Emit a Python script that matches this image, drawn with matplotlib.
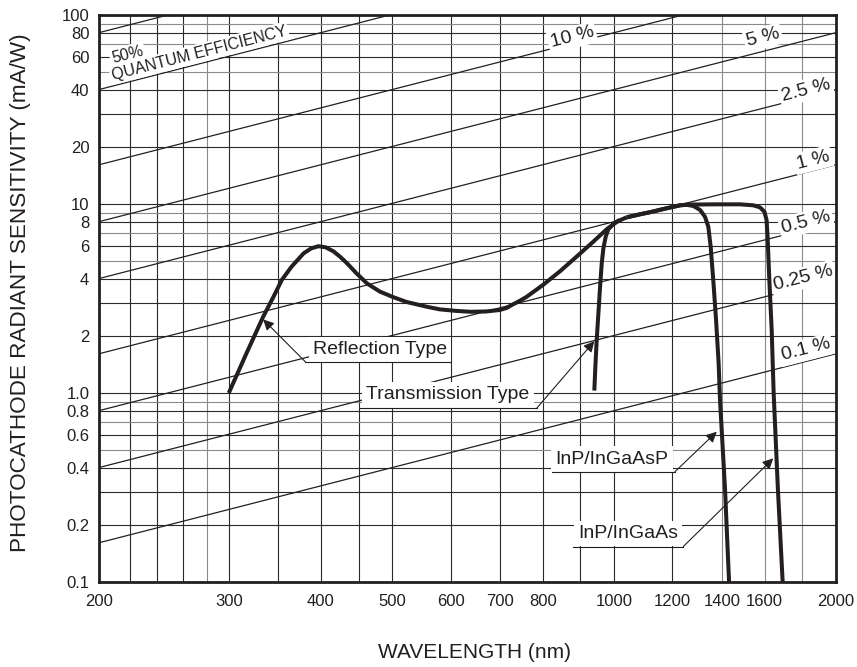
import numpy as np
import matplotlib
matplotlib.use("Agg")
import matplotlib.pyplot as plt

plt.rcParams["font.family"] = ["Liberation Sans", "DejaVu Sans"]

# ---- data (wavelength nm, sensitivity mA/W) ----
refl_wl = [300, 317, 334, 345, 354, 365, 379, 388, 397, 406, 416, 425, 434, 447,
           462, 481, 502, 523, 557, 580, 610, 638, 670, 700, 715, 726, 742, 761,
           802, 844, 889, 937, 977, 1008, 1040]
refl_s = [1.00, 1.62, 2.53, 3.23, 3.96, 4.66, 5.48, 5.82, 5.98, 5.90, 5.62, 5.25,
          4.86, 4.30, 3.80, 3.44, 3.21, 3.03, 2.86, 2.77, 2.72, 2.69, 2.70, 2.75,
          2.82, 2.92, 3.05, 3.23, 3.75, 4.40, 5.26, 6.32, 7.35, 8.06, 8.50]

trans_wl = [940, 943, 947, 952, 957, 962, 967, 974, 982, 998, 1018]
trans_s = [1.03, 1.38, 1.91, 2.64, 3.65, 4.86, 5.83, 6.72, 7.35, 7.84, 8.23]

ingaasp_wl = [1040, 1084, 1119, 1178, 1230, 1255, 1281, 1308, 1328, 1342, 1352,
              1363, 1375, 1386, 1392, 1414, 1432]
ingaasp_s = [8.50, 8.82, 9.05, 9.49, 9.85, 9.90, 9.76, 9.30, 8.57, 7.59, 5.95,
             3.96, 2.43, 1.44, 0.92, 0.31, 0.10]

ingaas_wl = [1040, 1084, 1119, 1178, 1230, 1260, 1378, 1482, 1545, 1577, 1599,
             1610, 1615, 1624, 1636, 1646, 1668, 1693]
ingaas_s = [8.50, 8.82, 9.05, 9.49, 9.85, 9.93, 9.96, 9.96, 9.84, 9.60, 9.11,
            8.23, 6.72, 3.96, 2.15, 1.00, 0.31, 0.10]

# quantum efficiency reference lines (percent)
qe_levels = [50, 25, 10, 5, 2.5, 1, 0.5, 0.25, 0.1]
qe_wl = [200, 2000]

x_major = [200, 300, 400, 500, 600, 700, 800, 1000, 1200, 1400, 1600, 2000]
x_minor = [220, 240, 260, 280, 350, 450, 900, 1800]
y_major = [0.1, 0.2, 0.4, 0.6, 0.8, 1, 2, 4, 6, 8, 10, 20, 40, 60, 80, 100]
y_labels = ["0.1", "0.2", "0.4", "0.6", "0.8", "1.0", "2", "4", "6", "8",
            "10", "20", "40", "60", "80", "100"]
y_minor = [0.3, 0.5, 0.7, 0.9, 3, 5, 7, 9, 30, 50, 70, 90]

INK = "#231f20"

fig = plt.figure(figsize=(8.57, 6.67), dpi=100)
ax = fig.add_axes([99 / 857, 1 - 582 / 667, 737 / 857, 567 / 667])
ax.set_xscale("log")
ax.set_yscale("log")
ax.set_xlim(200, 2000)
ax.set_ylim(0.1, 100)

# grid drawn by hand so a few lines can be lighter, as in the scan
gray_x = {280, 1400, 1600, 1800}
gray_y = {0.5, 0.7, 0.9, 5, 7, 9, 50, 70, 90}
for xv in x_major + x_minor:
    ax.axvline(xv, color="#8a8a8a" if xv in gray_x else "#2a2a2a", lw=0.8, zorder=1)
for yv in y_major + y_minor:
    ax.axhline(yv, color="#8a8a8a" if yv in gray_y else "#2a2a2a", lw=0.8, zorder=1)

# QE lines: S[mA/W] = QE * lambda / 1240 * 1000
wl = np.array(qe_wl, dtype=float)
for q in qe_levels:
    ax.plot(wl, q / 100 * wl / 1.24, color=INK, lw=0.9, zorder=2)

for xs, ys in [(refl_wl, refl_s), (trans_wl, trans_s),
               (ingaasp_wl, ingaasp_s), (ingaas_wl, ingaas_s)]:
    ax.plot(xs, ys, color=INK, lw=2.9, solid_capstyle="butt",
            solid_joinstyle="round", zorder=4)

ax.set_xticks(x_major, [str(v) for v in x_major])
ax.set_xticks([], minor=True)
ax.set_yticks(y_major, y_labels)
ax.set_yticks([], minor=True)
ax.tick_params(length=0, labelsize=12, colors=INK)
ax.tick_params(axis="x", pad=9)
ax.tick_params(axis="y", pad=7)
for sp in ax.spines.values():
    sp.set_linewidth(2.0)
    sp.set_color(INK)
    sp.set_zorder(6)

# QE labels
box = dict(boxstyle="square,pad=0.12", fc="white", ec="none")
ROT = 14.4
qe_text = [("10 %", 877, 76), ("5 %", 1592, 76), ("2.5 %", 1821, 40),
           ("1 %", 1862, 17.1), ("0.5 %", 1821, 8.0), ("0.25 %", 1804, 4.05),
           ("0.1 %", 1821, 1.69)]
for s, xv, yv in qe_text:
    ax.text(xv, yv, s, fontsize=14, rotation=ROT, ha="center", va="center",
            rotation_mode="anchor", bbox=box, color=INK, zorder=3)
ax.text(209, 55.7, "50%", fontsize=11.5, rotation=ROT, ha="left", va="baseline",
        rotation_mode="anchor", bbox=box, color=INK, zorder=3)
ax.text(209, 45.3, "QUANTUM EFFICIENCY", fontsize=11.5, rotation=ROT, ha="left",
        va="baseline", rotation_mode="anchor", bbox=box, color=INK, zorder=3)

# curve labels with underline leader and arrow
labels = [
    ("Reflection Type", 481, 1.69, 381, 599, 1.464, 381, 334, 2.45),
    ("Transmission Type", 595, 0.976, 452, 785, 0.83, 785, 940, 1.88),
    ("InP/InGaAsP", 994, 0.447, 823, 1209, 0.383, 1209, 1378, 0.624),
    ("InP/InGaAs", 1044, 0.181, 880, 1241, 0.154, 1241, 1644, 0.451),
]
lbox = dict(boxstyle="square,pad=0.22", fc="white", ec="none")
for s, tx, ty, u0, u1, uy, ax0, hx, hy in labels:
    ax.text(tx, ty, s, fontsize=14, ha="center", va="center", bbox=lbox,
            color=INK, zorder=5)
    ax.plot([u0, u1], [uy, uy], color=INK, lw=0.8, zorder=5)
    ax.annotate("", xy=(hx, hy), xytext=(ax0, uy),
                arrowprops=dict(arrowstyle="-|>", color=INK, lw=0.8,
                                mutation_scale=16, shrinkA=0, shrinkB=0),
                zorder=5)

fig.text(474.5 / 857, 1 - 652 / 667, "WAVELENGTH (nm)", fontsize=15,
         ha="center", va="center", color=INK)
fig.text(20.5 / 857, 1 - 293 / 667, "PHOTOCATHODE RADIANT SENSITIVITY (mA/W)",
         fontsize=16.2, rotation=90, ha="center", va="center", color=INK)

fig.savefig("out.png", dpi=100)
